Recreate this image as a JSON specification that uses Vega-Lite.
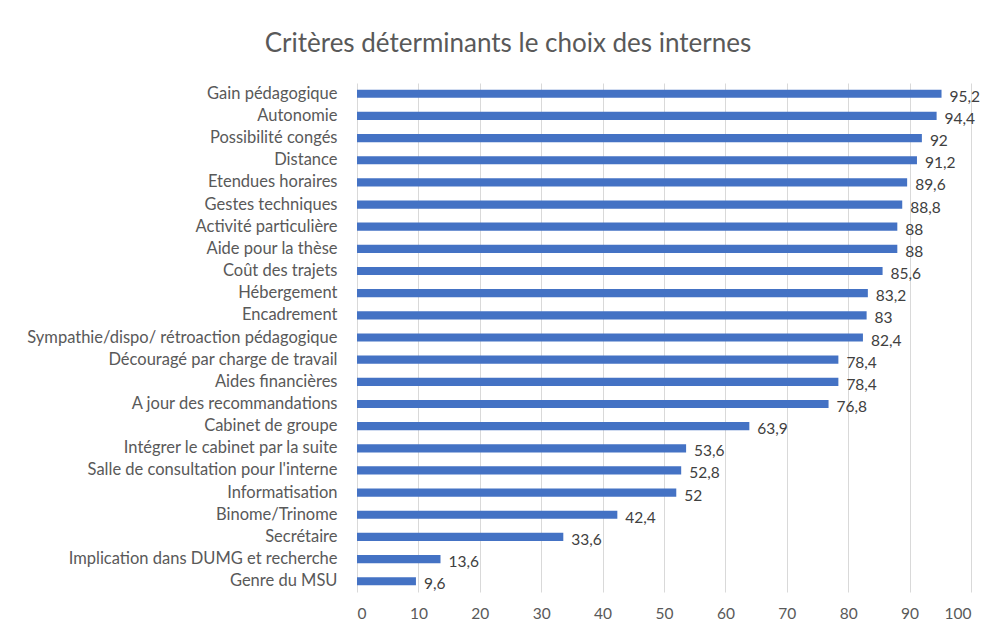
{
  "$schema": "https://vega.github.io/schema/vega-lite/v6.json",
  "width": 614,
  "height": 509,
  "autosize": {"type": "none"},
  "padding": {"left": 357, "top": 83, "right": 24, "bottom": 39},
  "background": "white",
  "config": {
    "locale": {"number": {"decimal": ",", "thousands": " ", "grouping": [3], "currency": ["", " €"]}},
    "view": {"stroke": null},
    "font": "Lato"
  },
  "title": {
    "text": "Critères déterminants le choix des internes",
    "fontSize": 26,
    "font": "Lato",
    "fontWeight": "normal",
    "color": "#595959",
    "anchor": "middle",
    "dx": -156,
    "offset": 26
  },
  "data": {
    "values": [
      {"critere": "Gain pédagogique", "valeur": 95.2},
      {"critere": "Autonomie", "valeur": 94.4},
      {"critere": "Possibilité congés", "valeur": 92},
      {"critere": "Distance", "valeur": 91.2},
      {"critere": "Etendues horaires", "valeur": 89.6},
      {"critere": "Gestes techniques", "valeur": 88.8},
      {"critere": "Activité particulière", "valeur": 88},
      {"critere": "Aide pour la thèse", "valeur": 88},
      {"critere": "Coût des trajets", "valeur": 85.6},
      {"critere": "Hébergement", "valeur": 83.2},
      {"critere": "Encadrement", "valeur": 83},
      {"critere": "Sympathie/dispo/ rétroaction pédagogique", "valeur": 82.4},
      {"critere": "Découragé par charge de travail", "valeur": 78.4},
      {"critere": "Aides financières", "valeur": 78.4},
      {"critere": "A jour des recommandations", "valeur": 76.8},
      {"critere": "Cabinet de groupe", "valeur": 63.9},
      {"critere": "Intégrer le cabinet par la suite", "valeur": 53.6},
      {"critere": "Salle de consultation pour l'interne", "valeur": 52.8},
      {"critere": "Informatisation", "valeur": 52},
      {"critere": "Binome/Trinome", "valeur": 42.4},
      {"critere": "Secrétaire", "valeur": 33.6},
      {"critere": "Implication dans DUMG et recherche", "valeur": 13.6},
      {"critere": "Genre du MSU", "valeur": 9.6}
    ]
  },
  "encoding": {
    "y": {
      "field": "critere",
      "type": "nominal",
      "sort": null,
      "scale": {"paddingInner": 0.63, "paddingOuter": 0.3},
      "axis": {
        "title": null,
        "ticks": false,
        "domain": false,
        "labelFontSize": 16.5,
        "labelColor": "#595959",
        "labelPadding": 20,
        "labelFont": "Lato",
        "labelLimit": 400
      }
    },
    "x": {
      "field": "valeur",
      "type": "quantitative",
      "scale": {"domain": [0, 100], "nice": false},
      "axis": {
        "title": null,
        "values": [0, 10, 20, 30, 40, 50, 60, 70, 80, 90, 100],
        "grid": true,
        "gridColor": "#d9d9d9",
        "gridWidth": 1,
        "domain": false,
        "ticks": false,
        "labelFontSize": 15.5,
        "labelColor": "#595959",
        "labelPadding": 14,
        "labelFont": "Lato"
      }
    }
  },
  "layer": [
    {"mark": {"type": "bar", "color": "#4472C4"}},
    {
      "mark": {"type": "text", "align": "left", "dx": 8, "fontSize": 15.5, "color": "#404040", "font": "Lato", "dy": 3},
      "encoding": {"text": {"field": "valeur", "type": "quantitative", "format": ".1~f"}}
    }
  ]
}
